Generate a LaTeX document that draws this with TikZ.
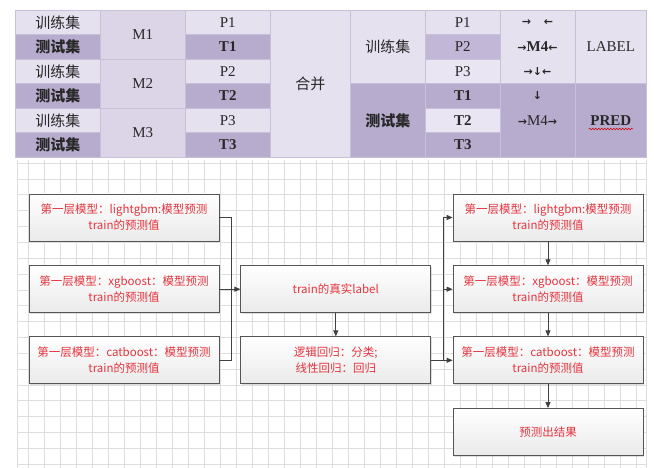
\documentclass[tikz,border=0pt]{standalone}
\usepackage{fontspec}
\setmainfont{Liberation Serif}
\newfontfamily\cjk{Noto Sans CJK SC}
\newfontfamily\arrf{DejaVu Sans}
\usetikzlibrary{arrows.meta,shadows,decorations.pathmorphing}
\definecolor{lite}{RGB}{230,225,239}
\definecolor{midc}{RGB}{220,213,232}
\definecolor{dark}{RGB}{183,171,206}
\definecolor{pdark}{RGB}{194,183,214}
\definecolor{tlite}{RGB}{234,229,242}
\definecolor{cline}{RGB}{200,192,216}
\definecolor{gridc}{RGB}{222,222,222}
\definecolor{boxline}{RGB}{85,85,85}
\definecolor{txtred}{RGB}{228,52,62}
\definecolor{conc}{RGB}{64,64,64}
\definecolor{txtc}{RGB}{40,40,40}
\tikzset{
  tcell/.style={draw=cline, line width=0.5pt, inner sep=0pt, anchor=north west, text=txtc,
    font=\fontsize{15}{18}\selectfont},
  tlabel/.style={inner sep=0pt, text=txtc, font=\fontsize{15}{18}\selectfont},
  fbox/.style={rectangle, draw=boxline, line width=0.8pt, top color=white, bottom color={rgb,255:red,234;green,234;blue,234},
    drop shadow={shadow xshift=1pt, shadow yshift=-1pt, opacity=0.25},
    minimum width=190pt, minimum height=47pt, inner sep=0pt, text=txtred, align=center,
    font=\cjk\fontsize{11.5}{16}\selectfont},
  conn/.style={draw=conc, line width=0.8pt},
  arr/.style={conn, -{Triangle[length=6pt,width=5pt]}}
}
\newcommand{\ar}[1]{{\arrf\bfseries\fontsize{11}{12}\selectfont #1}}
\begin{document}
\begin{tikzpicture}[x=1pt,y=-1pt]
\useasboundingbox (0,0) rectangle (654,468);
\fill[white] (0,0) rectangle (654,468);
% grid
\foreach \i in {0,...,38} { \draw[gridc, line width=0.6pt] ({28+16*\i},160) -- ({28+16*\i},468); }
\draw[gridc, line width=0.6pt] (17,160) -- (17,468);
\draw[gridc, line width=0.6pt] (646,160) -- (646,468);
\foreach \j in {0,...,19} { \draw[gridc, line width=0.6pt] (17,{163+15.85*\j}) -- (646,{163+15.85*\j}); }
% ---------- table: left part
\node[tcell, fill=lite, minimum width=85pt, minimum height=24.5pt] (a1) at (15,10) {\cjk 训练集};
\node[tcell, fill=dark, minimum width=85pt, minimum height=24.5pt] (a2) at (15,34.5) {\cjk\bfseries 测试集};
\node[tcell, fill=lite, minimum width=85pt, minimum height=24.5pt] (a3) at (15,59) {\cjk 训练集};
\node[tcell, fill=dark, minimum width=85pt, minimum height=24.5pt] (a4) at (15,83.5) {\cjk\bfseries 测试集};
\node[tcell, fill=lite, minimum width=85pt, minimum height=24.5pt] (a5) at (15,108) {\cjk 训练集};
\node[tcell, fill=dark, minimum width=85pt, minimum height=24.5pt] (a6) at (15,132.5) {\cjk\bfseries 测试集};
\node[tcell, fill=midc, minimum width=85pt, minimum height=49pt] (m1) at (100,10) {M1};
\node[tcell, fill=midc, minimum width=85pt, minimum height=49pt] (m2) at (100,59) {M2};
\node[tcell, fill=midc, minimum width=85pt, minimum height=49pt] (m3) at (100,108) {M3};
\node[tcell, fill=lite, minimum width=85pt, minimum height=24.5pt] (p1) at (185,10) {P1};
\node[tcell, fill=dark, minimum width=85pt, minimum height=24.5pt] (t1) at (185,34.5) {\bfseries T1};
\node[tcell, fill=lite, minimum width=85pt, minimum height=24.5pt] (p2) at (185,59) {P2};
\node[tcell, fill=dark, minimum width=85pt, minimum height=24.5pt] (t2) at (185,83.5) {\bfseries T2};
\node[tcell, fill=lite, minimum width=85pt, minimum height=24.5pt] (p3) at (185,108) {P3};
\node[tcell, fill=dark, minimum width=85pt, minimum height=24.5pt] (t3) at (185,132.5) {\bfseries T3};
\node[tcell, fill=lite, minimum width=80pt, minimum height=147pt] (hb) at (270,10) {\cjk 合并};
% ---------- table: right part
\node[tcell, fill=lite, minimum width=75pt, minimum height=73.5pt] (rtr) at (350,10) {\cjk 训练集};
\node[tcell, fill=dark, minimum width=75pt, minimum height=73.5pt] (rte) at (350,83.5) {\cjk\bfseries 测试集};
\node[tcell, fill=lite, minimum width=75pt, minimum height=24.5pt] (rp1) at (425,10) {P1};
\node[tcell, fill=pdark, minimum width=75pt, minimum height=24.5pt] (rp2) at (425,34.5) {P2};
\node[tcell, fill=tlite, minimum width=75pt, minimum height=24.5pt] (rp3) at (425,59) {P3};
\node[tcell, fill=dark, minimum width=75pt, minimum height=24.5pt] (rt1) at (425,83.5) {\bfseries T1};
\node[tcell, fill=tlite, minimum width=75pt, minimum height=24.5pt] (rt2) at (425,108) {\bfseries T2};
\node[tcell, fill=dark, minimum width=75pt, minimum height=24.5pt] (rt3) at (425,132.5) {\bfseries T3};
\node[tcell, fill=lite, minimum width=75pt, minimum height=73.5pt] (ctop) at (500,10) {};
\node[tcell, fill=dark, minimum width=75pt, minimum height=73.5pt] (cbot) at (500,83.5) {};
\node[tcell, fill=lite, minimum width=71pt, minimum height=73.5pt] (lab) at (575,10) {LABEL};
\node[tcell, fill=dark, minimum width=71pt, minimum height=73.5pt] (pred) at (575,83.5) {\bfseries PRED};
\node[tlabel] (ar1) at (537.5,22.5) {\ar{→}\hspace{13pt}\ar{←}};
\node[tlabel] (ar2) at (537.5,47) {\ar{→}{\bfseries M4}\ar{←}};
\node[tlabel] (ar3) at (537.5,71.5) {\ar{→}\ar{↓}\ar{←}};
\node[tlabel] (ar4) at (537.5,96) {\ar{↓}};
\node[tlabel] (ar5) at (537.5,120.5) {\ar{→}M4\ar{→}};
\draw[red!80!black, line width=0.5pt, decorate, decoration={snake, amplitude=0.8pt, segment length=3pt}]
  ([xshift=-22pt,yshift=-8.5pt]pred.center) -- ([xshift=22pt,yshift=-8.5pt]pred.center);
% ---------- flowchart
\node[fbox] (b1) at (124,217.5) {第一层模型：lightgbm:模型预测\\train的预测值};
\node[fbox] (b2) at (124,289.2) {第一层模型：xgboost：模型预测\\train的预测值};
\node[fbox] (b3) at (124,360.3) {第一层模型：catboost：模型预测\\train的预测值};
\node[fbox] (b4) at (335.8,289.2) {train的真实label};
\node[fbox] (b5) at (335.8,360.3) {逻辑回归：分类;\\线性回归：回归};
\node[fbox] (b6) at (548,217.5) {第一层模型：lightgbm:模型预测\\train的预测值};
\node[fbox] (b7) at (548,289.2) {第一层模型：xgboost：模型预测\\train的预测值};
\node[fbox] (b8) at (548,360.3) {第一层模型：catboost：模型预测\\train的预测值};
\node[fbox] (b9) at (548,432) {预测出结果};
\coordinate (lbus) at (231,0);
\coordinate (rbus) at (443,0);
\draw[conn] (b1.east) -- (b1.east -| lbus) -- (b3.east -| lbus) -- (b3.east);
\draw[arr] (b2.east) -- (b4.west);
\draw[arr] (b4.south) -- (b5.north);
\draw[arr] (b5.east) -- (b8.west);
\draw[conn] (b8.west -| rbus) -- (b6.west -| rbus);
\draw[arr] (b6.west -| rbus) -- (b6.west);
\draw[arr] (b7.west -| rbus) -- (b7.west);
\draw[arr] (b6.south) -- (b7.north);
\draw[arr] (b7.south) -- (b8.north);
\draw[arr] (b8.south) -- (b9.north);
\end{tikzpicture}
\end{document}
